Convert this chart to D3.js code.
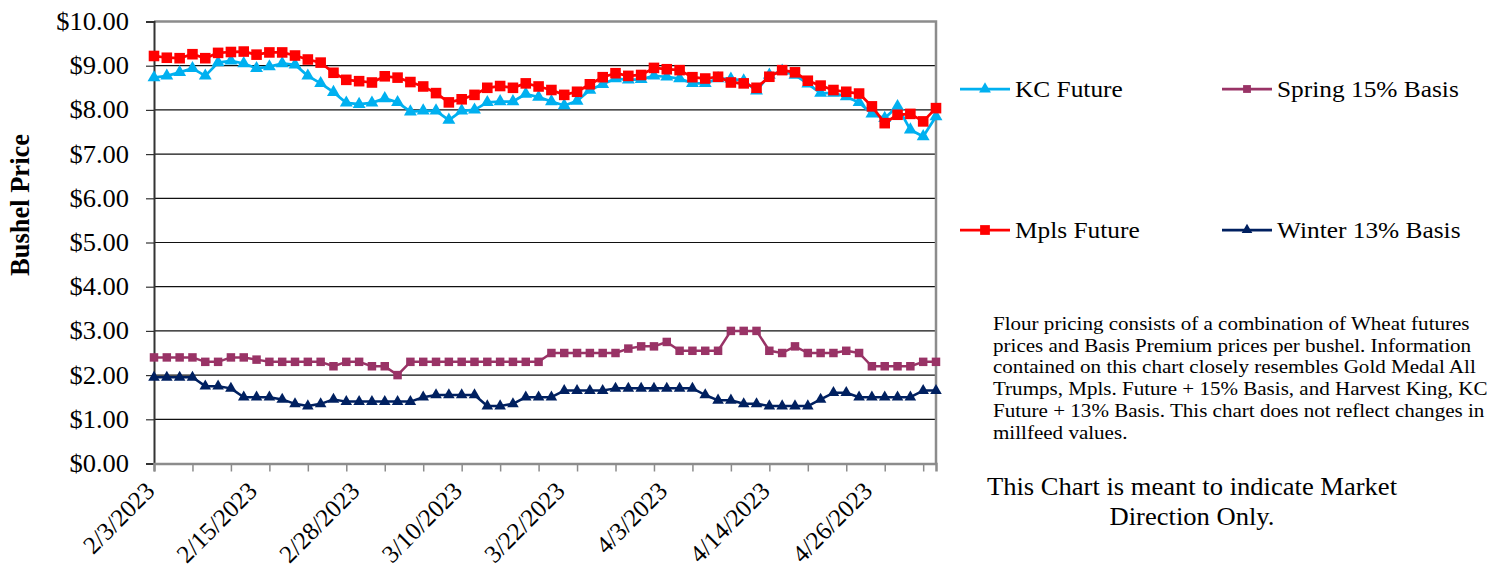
<!DOCTYPE html>
<html>
<head>
<meta charset="utf-8">
<script src="https://cdn.jsdelivr.net/npm/d3@7"></script>
<style>
  body { margin: 0; background: #fff; }
  svg { font-family: "Liberation Serif", "Times New Roman", serif; }
</style>
</head>
<body>
<svg width="1501" height="571"></svg>
<script>
// trading days shown on the category axis
const dates = [
  "2/3/2023", "2/6/2023", "2/7/2023", "2/8/2023", "2/9/2023", "2/10/2023",
  "2/13/2023", "2/14/2023", "2/15/2023", "2/16/2023", "2/17/2023",
  "2/21/2023", "2/22/2023", "2/23/2023", "2/24/2023", "2/27/2023", "2/28/2023",
  "3/1/2023", "3/2/2023", "3/3/2023", "3/6/2023", "3/7/2023", "3/8/2023", "3/9/2023", "3/10/2023",
  "3/13/2023", "3/14/2023", "3/15/2023", "3/16/2023", "3/17/2023",
  "3/20/2023", "3/21/2023", "3/22/2023", "3/23/2023", "3/24/2023",
  "3/27/2023", "3/28/2023", "3/29/2023", "3/30/2023", "3/31/2023",
  "4/3/2023", "4/4/2023", "4/5/2023", "4/6/2023",
  "4/10/2023", "4/11/2023", "4/12/2023", "4/13/2023", "4/14/2023",
  "4/17/2023", "4/18/2023", "4/19/2023", "4/20/2023", "4/21/2023",
  "4/24/2023", "4/25/2023", "4/26/2023", "4/27/2023", "4/28/2023",
  "5/1/2023", "5/2/2023", "5/3/2023"
];

const kcFuture = [
  8.73, 8.77, 8.85, 8.94, 8.77, 9.07, 9.11, 9.05, 8.94, 8.98, 9.05,
  9.02, 8.77, 8.60, 8.40, 8.16, 8.13, 8.16, 8.26, 8.17, 7.96,
  7.98, 7.98, 7.77, 7.98, 8.00, 8.17, 8.19, 8.19, 8.36, 8.29,
  8.19, 8.10, 8.20, 8.45, 8.58, 8.71, 8.68, 8.69, 8.77, 8.75,
  8.71, 8.60, 8.60, 8.71, 8.70, 8.66, 8.43, 8.79, 8.88, 8.79,
  8.59, 8.38, 8.38, 8.30, 8.17, 7.91, 7.81, 8.08, 7.55, 7.40, 7.85
];

const mplsFuture = [
  9.22, 9.18, 9.17, 9.26, 9.17, 9.29, 9.31, 9.32, 9.25, 9.30, 9.30,
  9.23, 9.14, 9.07, 8.84, 8.68, 8.65, 8.62, 8.76, 8.73, 8.63,
  8.53, 8.38, 8.17, 8.24, 8.34, 8.50, 8.54, 8.50, 8.60, 8.53,
  8.45, 8.34, 8.41, 8.58, 8.74, 8.83, 8.77, 8.79, 8.95, 8.92,
  8.90, 8.74, 8.71, 8.75, 8.62, 8.60, 8.50, 8.75, 8.90, 8.85,
  8.66, 8.55, 8.45, 8.41, 8.37, 8.08, 7.70, 7.89, 7.91, 7.74, 8.04
];

const spring15 = [
  2.40, 2.40, 2.40, 2.40, 2.30, 2.30, 2.40, 2.40, 2.35, 2.30, 2.30,
  2.30, 2.30, 2.30, 2.20, 2.30, 2.30, 2.20, 2.20, 2.00, 2.30,
  2.30, 2.30, 2.30, 2.30, 2.30, 2.30, 2.30, 2.30, 2.30, 2.30,
  2.50, 2.50, 2.50, 2.50, 2.50, 2.50, 2.60, 2.65, 2.65, 2.75,
  2.55, 2.55, 2.55, 2.55, 3.00, 3.00, 3.00, 2.55, 2.50, 2.65,
  2.50, 2.50, 2.50, 2.55, 2.50, 2.20, 2.20, 2.20, 2.20, 2.30, 2.30
];

const winter13 = [
  1.95, 1.95, 1.95, 1.95, 1.75, 1.75, 1.70, 1.50, 1.50, 1.50, 1.45,
  1.35, 1.30, 1.35, 1.45, 1.40, 1.40, 1.40, 1.40, 1.40, 1.40,
  1.50, 1.55, 1.55, 1.55, 1.55, 1.30, 1.30, 1.35, 1.50, 1.50,
  1.50, 1.65, 1.65, 1.65, 1.65, 1.70, 1.70, 1.70, 1.70, 1.70,
  1.70, 1.70, 1.55, 1.43, 1.43, 1.35, 1.35, 1.30, 1.30, 1.30,
  1.30, 1.45, 1.60, 1.60, 1.50, 1.50, 1.50, 1.50, 1.50, 1.65, 1.65
];

const yTicks = [0, 1, 2, 3, 4, 5, 6, 7, 8, 9, 10];
const tickDates = dates.filter((d, i) => i % 3 === 0);
const labelDates = dates.filter((d, i) => i % 8 === 0);

const noteLines = [
  "Flour pricing consists of a combination of Wheat futures",
  "prices and Basis Premium prices per bushel. Information",
  "contained on this chart closely resembles Gold Medal All",
  "Trumps, Mpls. Future + 15% Basis, and Harvest King, KC",
  "Future + 13% Basis. This chart does not reflect changes in",
  "millfeed values."
];
const directionLines = ["This Chart is meant to indicate Market", "Direction Only."];

// series in drawing order
const series = [
  { name: "KC Future", values: kcFuture, color: "#00B0F0", shape: d3.symbolTriangle, size: 72, width: 2.75 },
  { name: "Spring 15% Basis", values: spring15, color: "#993366", shape: d3.symbolSquare, size: 72, width: 2.5 },
  { name: "Mpls Future", values: mplsFuture, color: "#FF0000", shape: d3.symbolSquare, size: 112, width: 2.75 },
  { name: "Winter 13% Basis", values: winter13, color: "#002060", shape: d3.symbolTriangle, size: 58, width: 2.5 }
];

// the source picture is a little wider than tall, text is stretched to match
const stretch = 1.08;

const svg = d3.select("svg");
const plotLeft = 154, plotRight = 936, plotTop = 21.5, plotBottom = 463.5;

const x = d3.scalePoint().domain(dates).range([plotLeft, plotRight]);
const y = d3.scaleLinear().domain([0, 10]).range([plotBottom, plotTop]);

// gridlines
svg.append("g")
  .selectAll("line")
  .data(yTicks.filter(v => v > 0 && v < 10))
  .enter().append("line")
  .attr("x1", plotLeft).attr("x2", plotRight)
  .attr("y1", d => y(d)).attr("y2", d => y(d))
  .attr("stroke", "#111")
  .attr("stroke-width", 1.2);

// plot area border (top and right)
svg.append("path")
  .attr("d", `M${plotLeft},${plotTop}H${plotRight}V${plotBottom}`)
  .attr("fill", "none")
  .attr("stroke", "#8c8c8c")
  .attr("stroke-width", 2.5);

// y axis
const yAxis = svg.append("g")
  .attr("transform", `translate(${plotLeft},0)`)
  .call(d3.axisLeft(y).tickValues(yTicks).tickSize(8)
    .tickFormat(d => "$" + d3.format(".2f")(d)));
yAxis.select(".domain").attr("stroke", "#333").attr("stroke-width", 2);
yAxis.selectAll(".tick line").attr("stroke", "#333").attr("stroke-width", 1.2);
yAxis.selectAll(".tick text")
  .attr("x", null)
  .attr("transform", `translate(-25,0) scale(${stretch},1)`)
  .attr("font-family", "Liberation Serif, Times New Roman, serif")
  .attr("font-size", 24.5)
  .attr("fill", "#000")
  .attr("dy", "0.33em");

// x axis ticks
const xAxis = svg.append("g")
  .attr("transform", `translate(0,${plotBottom})`)
  .call(d3.axisBottom(x).tickValues(tickDates).tickSize(8).tickFormat(""));
xAxis.select(".domain").attr("stroke", "#8c8c8c").attr("stroke-width", 2.5);
xAxis.selectAll(".tick line").attr("stroke", "#8c8c8c").attr("stroke-width", 1.5);

// x axis labels, rotated
svg.append("g")
  .selectAll("text")
  .data(labelDates)
  .enter().append("text")
  .attr("transform", d => `translate(${x(d) + 2},${plotBottom + 29}) rotate(-45)`)
  .attr("text-anchor", "end")
  .attr("font-size", 25)
  .attr("fill", "#000")
  .text(d => d);

// y axis title
svg.append("text")
  .attr("transform", "translate(29,205) rotate(-90)")
  .attr("text-anchor", "middle")
  .attr("font-size", 26.5)
  .attr("font-weight", "bold")
  .text("Bushel Price");

// lines and markers
series.forEach(s => {
  const g = svg.append("g");
  g.append("path")
    .datum(s.values)
    .attr("fill", "none")
    .attr("stroke", s.color)
    .attr("stroke-width", s.width)
    .attr("stroke-linejoin", "round")
    .attr("d", d3.line().x((d, i) => x(dates[i])).y(d => y(d)));
  g.selectAll("path.marker")
    .data(s.values)
    .enter().append("path")
    .attr("class", "marker")
    .attr("transform", (d, i) => `translate(${x(dates[i])},${y(d)})`)
    .attr("d", d3.symbol().type(s.shape).size(s.size))
    .attr("fill", s.color);
});

// legend
const legendPos = [
  { name: "KC Future", lx: 960, ly: 89 },
  { name: "Spring 15% Basis", lx: 1222, ly: 89 },
  { name: "Mpls Future", lx: 960, ly: 230 },
  { name: "Winter 13% Basis", lx: 1222, ly: 230 }
];
const legend = svg.append("g")
  .selectAll("g")
  .data(legendPos)
  .enter().append("g")
  .attr("transform", d => `translate(${d.lx},${d.ly})`);
legend.append("line")
  .attr("x1", 0).attr("x2", 50)
  .attr("stroke", d => series.find(s => s.name === d.name).color)
  .attr("stroke-width", 2.75);
legend.append("path")
  .attr("transform", "translate(25,0)")
  .attr("d", d => {
    const s = series.find(t => t.name === d.name);
    return d3.symbol().type(s.shape).size(s.size * 0.85)();
  })
  .attr("fill", d => series.find(s => s.name === d.name).color);
legend.append("text")
  .attr("transform", `translate(55,0) scale(${stretch},1)`)
  .attr("dy", "0.33em")
  .attr("font-size", 23.5)
  .text(d => d.name);

// note text
svg.append("g")
  .selectAll("text")
  .data(noteLines)
  .enter().append("text")
  .attr("transform", (d, i) => `translate(993,${330 + i * 21.7}) scale(${stretch},1)`)
  .attr("font-size", 19.5)
  .text(d => d);

svg.append("g")
  .selectAll("text")
  .data(directionLines)
  .enter().append("text")
  .attr("transform", (d, i) => `translate(1192,${495 + i * 30}) scale(${stretch},1)`)
  .attr("text-anchor", "middle")
  .attr("font-size", 24.6)
  .text(d => d);
</script>
</body>
</html>
